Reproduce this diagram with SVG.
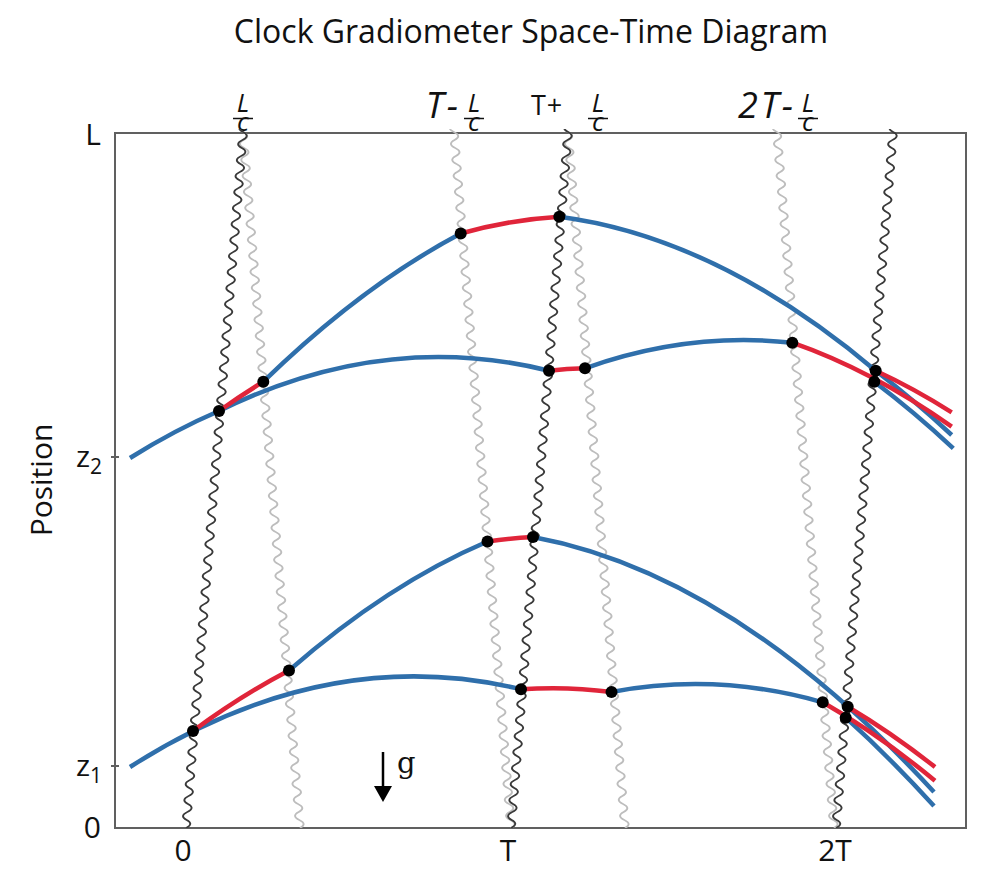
<svg xmlns="http://www.w3.org/2000/svg" width="985" height="870" viewBox="0 0 985 870">
<style>
text { font-family: "Open Sans", "Noto Sans", "DejaVu Sans", sans-serif; fill: #111; }
.title { font-size: 32px; }
.tick { font-size: 30px; }
.frac { font-size: 26px; font-style: italic; }
.big { font-size: 36px; font-style: italic; letter-spacing: 3px; }
.wd { fill: none; stroke: #3a3a3a; stroke-width: 1.8; }
.wl { fill: none; stroke: #bdbdbd; stroke-width: 1.8; }
.b { fill: none; stroke: #2f6fab; stroke-width: 4.5; }
.r { fill: none; stroke: #e0253a; stroke-width: 4.5; }
.dot { fill: #000; }
.frame { fill: none; stroke: #606060; stroke-width: 2; }
.bar { stroke: #111; stroke-width: 1.5; }
</style>
<defs>
<clipPath id="plotclip"><rect x="115" y="129" width="851" height="699"/></clipPath>
<path id="wave" d="M0,0 q8,-4 0,-8 t0,-8 0,-8 0,-8 0,-8 0,-8 0,-8 0,-8 0,-8 0,-8 0,-8
0,-8 0,-8 0,-8 0,-8 0,-8 0,-8 0,-8 0,-8 0,-8 0,-8
0,-8 0,-8 0,-8 0,-8 0,-8 0,-8 0,-8 0,-8 0,-8 0,-8
0,-8 0,-8 0,-8 0,-8 0,-8 0,-8 0,-8 0,-8 0,-8 0,-8
0,-8 0,-8 0,-8 0,-8 0,-8 0,-8 0,-8 0,-8 0,-8 0,-8
0,-8 0,-8 0,-8 0,-8 0,-8 0,-8 0,-8 0,-8 0,-8 0,-8
0,-8 0,-8 0,-8 0,-8 0,-8 0,-8 0,-8 0,-8 0,-8 0,-8
0,-8 0,-8 0,-8 0,-8 0,-8 0,-8 0,-8 0,-8 0,-8 0,-8
0,-8 0,-8 0,-8 0,-8 0,-8 0,-8 0,-8 0,-8 0,-8 0,-8
0,-8 0,-8 0,-8 0,-8 0,-8 0,-8 0,-8 0,-8 0,-8 0,-8"/>
</defs>

<text class="title" x="531" y="43" text-anchor="middle">Clock Gradiometer Space-Time Diagram</text>

<g id="axes">
<rect class="frame" x="115" y="133" width="851" height="695"/>
<line class="frame" x1="111" y1="457" x2="119" y2="457"/>
<line class="frame" x1="111" y1="766" x2="119" y2="766"/>
<text class="tick" x="101" y="145" text-anchor="end">L</text>
<text class="tick" x="102" y="467" text-anchor="end">z<tspan font-size="21" dy="7">2</tspan></text>
<text class="tick" x="102" y="776" text-anchor="end">z<tspan font-size="21" dy="7">1</tspan></text>
<text class="tick" x="101" y="838" text-anchor="end">0</text>
<text class="tick" x="183" y="861" text-anchor="middle" font-size="29">0</text>
<text class="tick" x="508" y="861" text-anchor="middle" font-size="29">T</text>
<text class="tick" x="835" y="861" text-anchor="middle" font-size="29">2T</text>
<text class="tick" transform="translate(52,480) rotate(-90)" text-anchor="middle" font-size="32">Position</text>
</g>

<g id="top-labels">
<text class="frac" text-anchor="middle"><tspan x="243" y="112">L</tspan><tspan x="243" y="131">c</tspan></text>
<line class="bar" x1="233" y1="118.5" x2="253" y2="118.5"/>

<text class="big" x="461" y="118" text-anchor="end">T-</text>
<text class="frac" text-anchor="middle"><tspan x="474" y="112">L</tspan><tspan x="474" y="131">c</tspan></text>
<line class="bar" x1="464" y1="118.5" x2="484" y2="118.5"/>

<text x="531" y="115" font-size="27" letter-spacing="1">T+</text>
<text class="frac" text-anchor="middle"><tspan x="598" y="112">L</tspan><tspan x="598" y="131">c</tspan></text>
<line class="bar" x1="588" y1="118.5" x2="608" y2="118.5"/>

<text class="big" x="796" y="118" text-anchor="end">2T-</text>
<text class="frac" text-anchor="middle"><tspan x="808" y="112">L</tspan><tspan x="808" y="131">c</tspan></text>
<line class="bar" x1="798" y1="118.5" x2="818" y2="118.5"/>
</g>

<g id="pulses" clip-path="url(#plotclip)">
<use href="#wave" class="wl" transform="translate(300,828) skewX(4.689)"/>
<use href="#wave" class="wl" transform="translate(511,828) skewX(4.689)"/>
<use href="#wave" class="wl" transform="translate(625,828) skewX(4.689)"/>
<use href="#wave" class="wl" transform="translate(834,828) skewX(4.689)"/>
<use href="#wave" class="wd" transform="translate(186,828) skewX(-4.689)"/>
<use href="#wave" class="wd" transform="translate(511,828) skewX(-4.689)"/>
<use href="#wave" class="wd" transform="translate(836,828) skewX(-4.689)"/>
</g>

<g id="gravity">
<line x1="383" y1="752" x2="383" y2="788" stroke="#000" stroke-width="2.5"/>
<polygon points="374,786 392,786 383,802" fill="#000"/>
<text x="397" y="773" font-size="29" style="font-family:'DejaVu Serif','Liberation Serif',serif">g</text>
</g>

<g id="trajectories">
<g id="lower-blue">
<path class="b" d="M130,767 Q325.5,642.15 521,689.3"/>
<path class="b" d="M289,670.5 Q388.25,583.8 487.5,541.5"/>
<path class="b" d="M533,537 Q733.5,574.05 934,792"/>
<path class="b" d="M611.5,692 Q717.1,672.06 822.7,702.3"/>
<path class="b" d="M845.7,717.7 Q889.85,757.46 934,806"/>
</g>
<g id="upper-blue">
<path class="b" d="M130,458 Q174.5,430.04 219,411"/>
<path class="b" d="M219,411 Q384,329.6 549,370.7"/>
<path class="b" d="M263.3,381.7 Q362,285.68 460.7,233.5"/>
<path class="b" d="M559.3,216.7 Q717.5,237.39 875.7,370.7"/>
<path class="b" d="M875.7,370.7 Q913.7,399.6 951.7,435"/>
<path class="b" d="M585,368.3 Q688.65,331.33 792.3,342.7"/>
<path class="b" d="M874.3,381.7 Q913.8,411.49 953.3,448.3"/>
</g>
<g id="lower-red">
<path class="r" d="M193,731 Q241,695.6 289,670.5"/>
<path class="r" d="M487.5,541.5 Q510.25,538.1 533,537"/>
<path class="r" d="M521,689.3 Q566.25,686 611.5,692"/>
<path class="r" d="M822.7,702.3 Q878.85,734.4 935,780.7"/>
<path class="r" d="M847.7,706.7 Q891.35,732.56 935,767"/>
</g>
<g id="upper-red">
<path class="r" d="M219,411 Q241.15,395.25 263.3,381.7"/>
<path class="r" d="M460.7,233.5 Q510,219.63 559.3,216.7"/>
<path class="r" d="M549,370.7 Q567,368.77 585,368.3"/>
<path class="r" d="M792.3,342.7 Q872,370.41 951.7,426.7"/>
<path class="r" d="M875.7,370.7 Q913.7,388.25 951.7,412.3"/>
</g>
</g>

<g id="dots">
<circle class="dot" cx="193" cy="731" r="6"/>
<circle class="dot" cx="289" cy="670.5" r="6"/>
<circle class="dot" cx="487.5" cy="541.5" r="6"/>
<circle class="dot" cx="533" cy="537" r="6"/>
<circle class="dot" cx="521" cy="689.3" r="6"/>
<circle class="dot" cx="611.5" cy="692" r="6"/>
<circle class="dot" cx="822.7" cy="702.3" r="6"/>
<circle class="dot" cx="847.7" cy="706.7" r="6"/>
<circle class="dot" cx="845.7" cy="717.7" r="6"/>
<circle class="dot" cx="219" cy="411" r="6"/>
<circle class="dot" cx="263.3" cy="381.7" r="6"/>
<circle class="dot" cx="460.7" cy="233.5" r="6"/>
<circle class="dot" cx="559.3" cy="216.7" r="6"/>
<circle class="dot" cx="549" cy="370.7" r="6"/>
<circle class="dot" cx="585" cy="368.3" r="6"/>
<circle class="dot" cx="792.3" cy="342.7" r="6"/>
<circle class="dot" cx="875.7" cy="370.7" r="6"/>
<circle class="dot" cx="874.3" cy="381.7" r="6"/>
</g>
</svg>
